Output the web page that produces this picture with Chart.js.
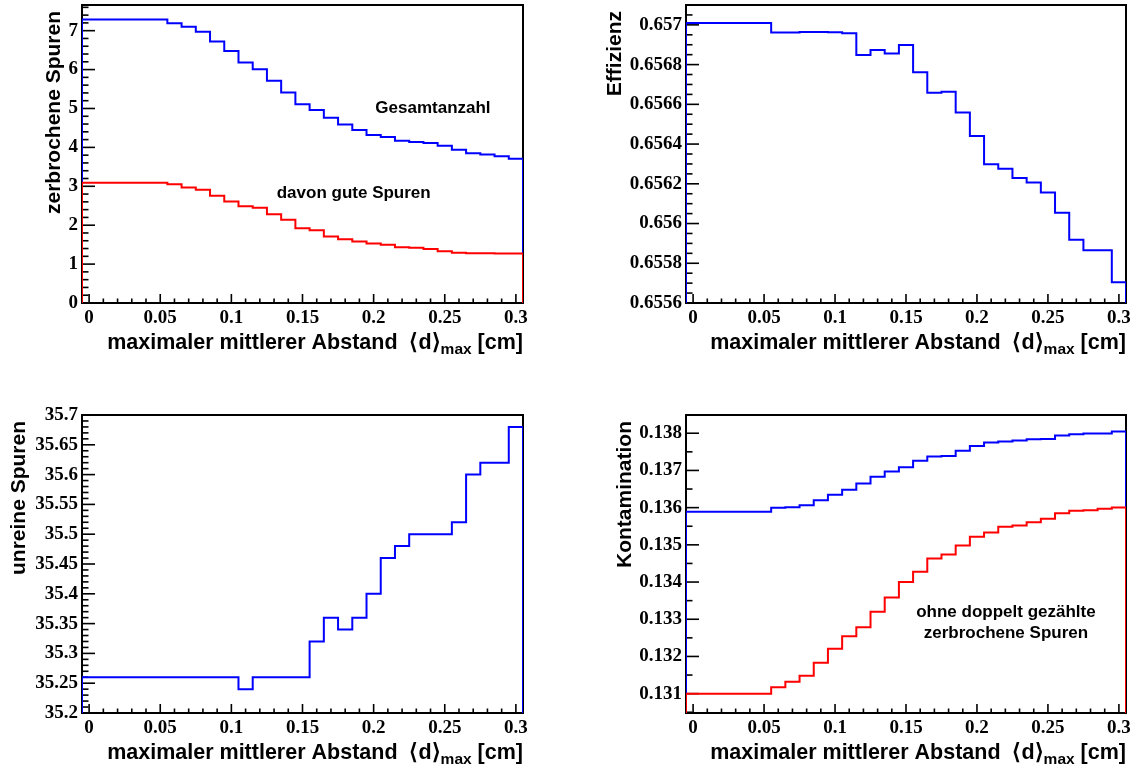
<!DOCTYPE html>
<html>
<head>
<meta charset="utf-8">
<script src="https://cdn.jsdelivr.net/npm/chart.js@4.4.0/dist/chart.umd.min.js"></script>
<style>
  body { margin: 0; background: #fff; }
  canvas { position: absolute; }
</style>
</head>
<body>
<canvas id="c1" width="567" height="385" style="left:0;top:0"></canvas>
<canvas id="c2" width="567" height="385" style="left:567px;top:0"></canvas>
<canvas id="c3" width="567" height="386" style="left:0;top:385px"></canvas>
<canvas id="c4" width="567" height="386" style="left:567px;top:385px"></canvas>
<script>
// bins: 31 bins of width 0.01, centred on 0, 0.01, ... 0.3
var binLow = -0.005;
var binWidth = 0.01;
var xTickStep = 0.05;

var brokenTotal = [7.29, 7.29, 7.29, 7.29, 7.29, 7.29, 7.19, 7.10, 6.97, 6.72, 6.48, 6.18, 6.01, 5.71, 5.41, 5.11,
  4.96, 4.76, 4.59, 4.45, 4.32, 4.27, 4.17, 4.14, 4.11, 4.04, 3.94, 3.85, 3.82, 3.77, 3.71];
var brokenGood = [3.09, 3.09, 3.09, 3.09, 3.09, 3.09, 3.05, 2.97, 2.91, 2.76, 2.61, 2.49, 2.45, 2.28, 2.14, 1.92,
  1.87, 1.71, 1.64, 1.58, 1.53, 1.50, 1.43, 1.42, 1.39, 1.33, 1.29, 1.28, 1.28, 1.27, 1.27];
var efficiency = [0.65701, 0.65701, 0.65701, 0.65701, 0.65701, 0.65701, 0.656961, 0.656961, 0.656964, 0.656964,
  0.656963, 0.656958, 0.656848, 0.656874, 0.656856, 0.656899, 0.656761, 0.656658, 0.656663, 0.656559,
  0.656441, 0.656299, 0.656276, 0.656229, 0.656206, 0.656156, 0.656054, 0.655919, 0.655865, 0.655865, 0.655705];
var impure = [35.26, 35.26, 35.26, 35.26, 35.26, 35.26, 35.26, 35.26, 35.26, 35.26, 35.26, 35.24, 35.26, 35.26,
  35.26, 35.26, 35.32, 35.36, 35.34, 35.36, 35.40, 35.46, 35.48, 35.50, 35.50, 35.50, 35.52, 35.60, 35.62, 35.62, 35.68];
var contamAll = [0.135887, 0.135887, 0.135887, 0.135887, 0.135887, 0.135887, 0.135995, 0.136013, 0.136066, 0.136201,
  0.136344, 0.136478, 0.136648, 0.136827, 0.13697, 0.137087, 0.137257, 0.137373, 0.137391, 0.137526,
  0.13766, 0.137749, 0.137776, 0.137803, 0.137839, 0.137848, 0.137937, 0.137973, 0.137991, 0.137991, 0.138045];
var contamNoDouble = [0.131, 0.131, 0.131, 0.131, 0.131, 0.131, 0.13117, 0.131322, 0.131483, 0.131833,
  0.132209, 0.13254, 0.132782, 0.133202, 0.133587, 0.133999, 0.134277, 0.134635, 0.134742, 0.134984,
  0.135217, 0.135333, 0.135485, 0.13552, 0.13561, 0.1357, 0.135852, 0.135914, 0.135932, 0.135968, 0.136004];

var xTitle = ['maximaler mittlerer Abstand  \u27E8d\u27E9', 'max', ' [cm]'];

var TICK_FONT = {family: '"Liberation Serif", "Times New Roman", serif', weight: 'bold', size: 19};
var SANS = '"Liberation Sans", Arial, sans-serif';

function histPoints(values, yBase) {
  var pts = [{x: binLow, y: yBase}];
  for (var i = 0; i < values.length; i++) {
    pts.push({x: binLow + i * binWidth, y: values[i]});
  }
  var hi = binLow + values.length * binWidth;
  pts.push({x: hi, y: values[values.length - 1]});
  pts.push({x: hi, y: yBase});
  return pts;
}

function fmt(v, d) {
  return String(parseFloat(v.toFixed(d)));
}

function minorTicks(ctx, scale, step, div, horizontal, a, lenMajor) {
  var minor = step / div;
  var k0 = Math.ceil(scale.min / minor - 1e-6);
  var k1 = Math.floor(scale.max / minor + 1e-6);
  for (var k = k0; k <= k1; k++) {
    var major = ((k % div) + div) % div === 0;
    var len = major ? lenMajor : lenMajor / 2;
    var p = scale.getPixelForValue(k * minor);
    ctx.beginPath();
    if (horizontal) {
      ctx.moveTo(p, a.bottom);
      ctx.lineTo(p, a.bottom - len);
    } else {
      ctx.moveTo(a.left, p);
      ctx.lineTo(a.left + len, p);
    }
    ctx.stroke();
  }
}

var rootStyle = {
  id: 'rootStyle',
  beforeDatasetsDraw: function(chart, args, o) {
    var ctx = chart.ctx, a = chart.chartArea;
    ctx.save();
    ctx.strokeStyle = '#000';
    ctx.lineWidth = 2;
    ctx.strokeRect(a.left, a.top, a.right - a.left, a.bottom - a.top);
    ctx.lineWidth = 1.6;
    minorTicks(ctx, chart.scales.x, xTickStep, 5, true, a, 9);
    minorTicks(ctx, chart.scales.y, o.yStep, o.yDiv, false, a, 13);
    ctx.restore();
  },
  afterDraw: function(chart, args, o) {
    var ctx = chart.ctx, a = chart.chartArea;
    ctx.save();
    ctx.fillStyle = '#000';
    // y title, right-aligned at the top of the axis
    ctx.save();
    ctx.font = 'bold 21px ' + SANS;
    ctx.translate(o.yTitleX, a.top + 6);
    ctx.rotate(-Math.PI / 2);
    ctx.textAlign = 'right';
    ctx.textBaseline = 'alphabetic';
    ctx.fillText(o.yTitle, 0, 0);
    ctx.restore();
    // x title with subscript, right-aligned at the end of the axis
    var big = 'bold 21.5px ' + SANS, small = 'bold 15.5px ' + SANS;
    ctx.textBaseline = 'alphabetic';
    ctx.textAlign = 'left';
    ctx.font = big;
    var w1 = ctx.measureText(xTitle[0]).width;
    var w3 = ctx.measureText(xTitle[2]).width;
    ctx.font = small;
    var w2 = ctx.measureText(xTitle[1]).width;
    var base = a.bottom + 46;
    var x0 = a.right - (w1 + w2 + w3);
    ctx.font = big;
    ctx.fillText(xTitle[0], x0, base);
    ctx.font = small;
    ctx.fillText(xTitle[1], x0 + w1, base + 5);
    ctx.font = big;
    ctx.fillText(xTitle[2], x0 + w1 + w2, base);
    // annotations
    ctx.font = 'bold 17px ' + SANS;
    ctx.textAlign = 'center';
    ctx.textBaseline = 'middle';
    (o.notes || []).forEach(function(n) {
      ctx.fillText(n.text, chart.scales.x.getPixelForValue(n.x), chart.scales.y.getPixelForValue(n.y));
    });
    ctx.restore();
  }
};

function makePanel(id, box, yMin, yMax, yStep, yDiv, yDec, yTitle, yTitleX, series, notes) {
  var canvas = document.getElementById(id);
  var W = canvas.width, H = canvas.height;
  var datasets = series.map(function(s) {
    return {
      data: histPoints(s.values, yMin),
      borderColor: s.color,
      borderWidth: 2,
      pointRadius: 0,
      fill: false,
      stepped: 'before'
    };
  });
  return new Chart(canvas, {
    type: 'line',
    data: {datasets: datasets},
    options: {
      responsive: false,
      animation: false,
      layout: {padding: {left: 0, top: box.T, right: W - box.R, bottom: 0}},
      plugins: {
        legend: {display: false},
        tooltip: {enabled: false},
        rootStyle: {yStep: yStep, yDiv: yDiv, yTitle: yTitle, yTitleX: yTitleX, notes: notes}
      },
      scales: {
        x: {
          type: 'linear',
          min: binLow,
          max: binLow + 31 * binWidth,
          grid: {display: false, drawTicks: false},
          border: {display: false},
          ticks: {
            stepSize: xTickStep, includeBounds: false, autoSkip: false, maxRotation: 0,
            padding: 4, color: '#000', font: TICK_FONT,
            callback: function(v) { return fmt(v, 3); }
          },
          afterFit: function(s) { s.height = H - box.B; s.paddingLeft = 0; s.paddingRight = 0; }
        },
        y: {
          type: 'linear',
          min: yMin,
          max: yMax,
          grid: {display: false, drawTicks: false},
          border: {display: false},
          ticks: {
            stepSize: yStep, includeBounds: false, autoSkip: false,
            padding: 4, color: '#000', font: TICK_FONT,
            callback: function(v) { return fmt(v, yDec); }
          },
          afterFit: function(s) { s.width = box.L; s.paddingTop = 0; s.paddingBottom = 0; }
        }
      }
    },
    plugins: [rootStyle]
  });
}

makePanel('c1', {L: 82, R: 523, T: 5, B: 303}, 0, 7.66, 1, 5, 0, 'zerbrochene Spuren', 60,
  [{values: brokenGood, color: '#ff0000'}, {values: brokenTotal, color: '#0000ff'}],
  [{text: 'Gesamtanzahl', x: 0.2417, y: 5.01}, {text: 'davon gute Spuren', x: 0.186, y: 2.83}]);

makePanel('c2', {L: 119, R: 559, T: 5, B: 303}, 0.6556, 0.6571, 0.0002, 4, 4, 'Effizienz', 54,
  [{values: efficiency, color: '#0000ff'}], []);

makePanel('c3', {L: 82, R: 523, T: 30, B: 328}, 35.2, 35.7, 0.05, 5, 2, 'unreine Spuren', 25,
  [{values: impure, color: '#0000ff'}], []);

makePanel('c4', {L: 119, R: 559, T: 30, B: 328}, 0.13048, 0.13849, 0.001, 2, 4, 'Kontamination', 64,
  [{values: contamNoDouble, color: '#ff0000'}, {values: contamAll, color: '#0000ff'}],
  [{text: 'ohne doppelt gezählte', x: 0.2204, y: 0.133195}, {text: 'zerbrochene Spuren', x: 0.2204, y: 0.13263}]);
</script>
</body>
</html>
